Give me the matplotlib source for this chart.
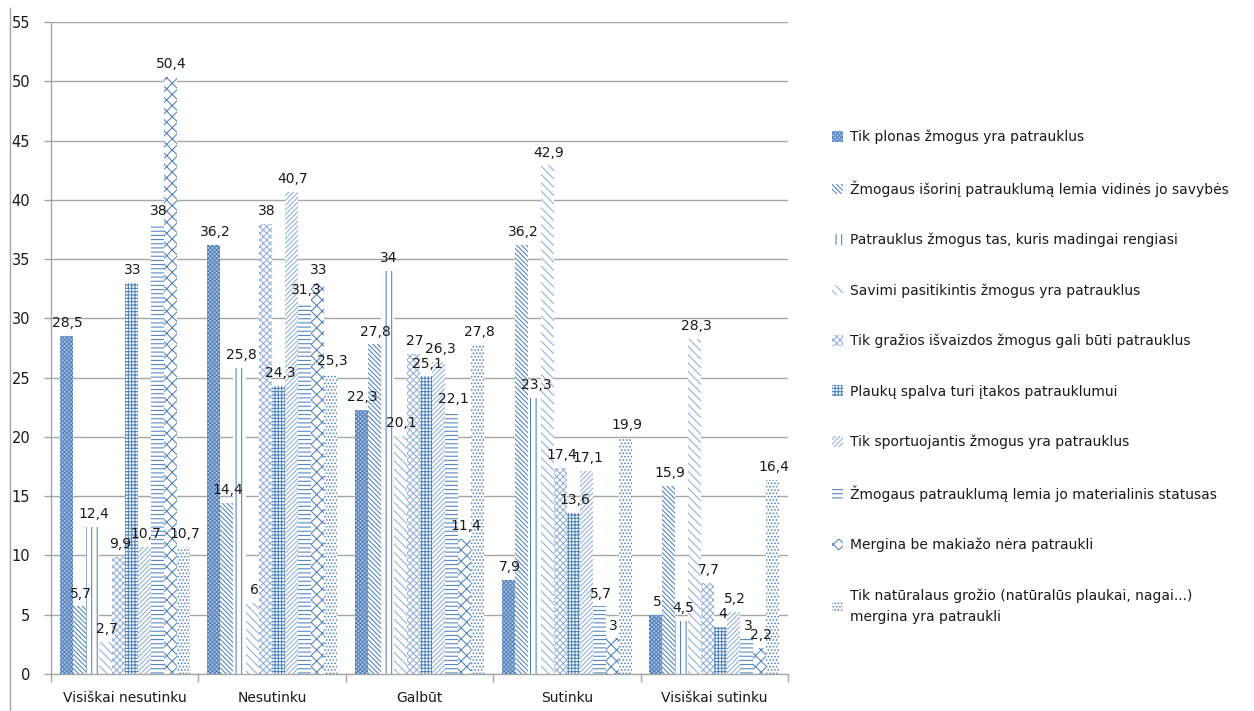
import matplotlib
matplotlib.use("Agg")
import matplotlib.pyplot as plt
from matplotlib.lines import Line2D
import numpy as np

plt.rcParams['font.family'] = ['DejaVu Sans']
plt.rcParams['hatch.linewidth'] = 0.75

categories = ["Visiškai nesutinku", "Nesutinku", "Galbūt", "Sutinku", "Visiškai sutinku"]

series_names = [
    "Tik plonas žmogus yra patrauklus",
    "Žmogaus išorinį patrauklumą lemia vidinės jo savybės",
    "Patrauklus žmogus tas, kuris madingai rengiasi",
    "Savimi pasitikintis žmogus yra patrauklus",
    "Tik gražios išvaizdos žmogus gali būti patrauklus",
    "Plaukų spalva turi įtakos patrauklumui",
    "Tik sportuojantis žmogus yra patrauklus",
    "Žmogaus patrauklumą lemia jo materialinis statusas",
    "Mergina be makiažo nėra patraukli",
    "Tik natūralaus grožio (natūralūs plaukai, nagai...)\nmergina yra patraukli",
]

plonas = [28.5, 36.2, 22.3, 7.9, 5]
vidines_savybes = [5.7, 14.4, 27.8, 36.2, 15.9]
madingai = [12.4, 25.8, 34, 23.3, 4.5]
pasitikintis = [2.7, 6, 20.1, 42.9, 28.3]
grazios_isvaizdos = [9.9, 38, 27, 17.4, 7.7]
plauku_spalva = [33, 24.3, 25.1, 13.6, 4]
sportuojantis = [10.7, 40.7, 26.3, 17.1, 5.2]
materialinis = [38, 31.3, 22.1, 5.7, 3]
be_makiazo = [50.4, 33, 11.4, 3, 2.2]
naturalaus_grozio = [10.7, 25.3, 27.8, 19.9, 16.4]

values = [plonas, vidines_savybes, madingai, pasitikintis, grazios_isvaizdos,
          plauku_spalva, sportuojantis, materialinis, be_makiazo, naturalaus_grozio]

blue = "#4F81BD"
light = "#8FAEDA"
styles = [
    dict(facecolor="#B3C6E7", edgecolor=blue, hatch="x" * 8),
    dict(facecolor="white", edgecolor=blue, hatch="\\" * 7),
    dict(facecolor="white", edgecolor=blue, hatch="|||"),
    dict(facecolor="white", edgecolor=light, hatch="\\" * 4),
    dict(facecolor="white", edgecolor=light, hatch="x" * 5),
    dict(facecolor="white", edgecolor=blue, hatch="+" * 5),
    dict(facecolor="white", edgecolor=light, hatch="/" * 7),
    dict(facecolor="white", edgecolor=blue, hatch="-" * 4),
    dict(facecolor="white", edgecolor=blue, hatch="xxx"),
    dict(facecolor="white", edgecolor=blue, hatch="." * 5),
]

W, H = 1254, 711
fig = plt.figure(figsize=(W / 100, H / 100), dpi=100)
ax = fig.add_axes([51 / W, 1 - 674 / H, (788 - 51) / W, (674 - 22) / H])

x = np.arange(len(categories))
bw = 0.088
n = len(values)
for i, (vals, st) in enumerate(zip(values, styles)):
    pos = x + (i - (n - 1) / 2) * bw
    ax.bar(pos, vals, width=bw, linewidth=0, label=series_names[i], zorder=2, **st)
    for px, v in zip(pos, vals):
        ax.text(px + 0.01, v + 0.5, f"{v:g}".replace(".", ","), ha="center", va="bottom",
                fontsize=10, color="#1a1a1a", zorder=4)

ax.set_xlim(-0.5, len(categories) - 0.5)
ax.set_ylim(0, 55)
ax.set_yticks(np.arange(0, 56, 5))
ax.yaxis.grid(True, color="#A6A6A6", linewidth=1.0, zorder=0)
ax.set_axisbelow(True)

ax.set_xticks(np.arange(-0.5, len(categories), 1.0))
ax.set_xticklabels([])
ax.set_xticks(x, minor=True)
ax.set_xticklabels(categories, minor=True, fontsize=10, color="#1a1a1a")
ax.tick_params(axis="x", which="major", length=6, color="#A6A6A6", width=1.0)
ax.tick_params(axis="x", which="minor", length=0, pad=12)
ax.tick_params(axis="y", length=5, color="#A6A6A6", width=1.0, labelsize=10.5,
               labelcolor="#1a1a1a", pad=10)

for side in ("top", "right"):
    ax.spines[side].set_visible(False)
for side in ("left", "bottom"):
    ax.spines[side].set_color("#A6A6A6")
    ax.spines[side].set_linewidth(1.0)

leg = fig.legend(loc="upper left", bbox_to_anchor=(826 / W, 1 - 124 / H), frameon=False,
                 fontsize=10, handlelength=0.8, handleheight=0.8, handletextpad=0.5,
                 labelspacing=2.6, labelcolor="#1a1a1a", borderaxespad=0)
for t in leg.get_texts():
    t.set_linespacing(1.6)

fig.add_artist(Line2D([10 / W, 10 / W], [0, 1 - 8 / H], color="#A6A6A6", linewidth=1.0))

fig.savefig("out.png", dpi=100)
